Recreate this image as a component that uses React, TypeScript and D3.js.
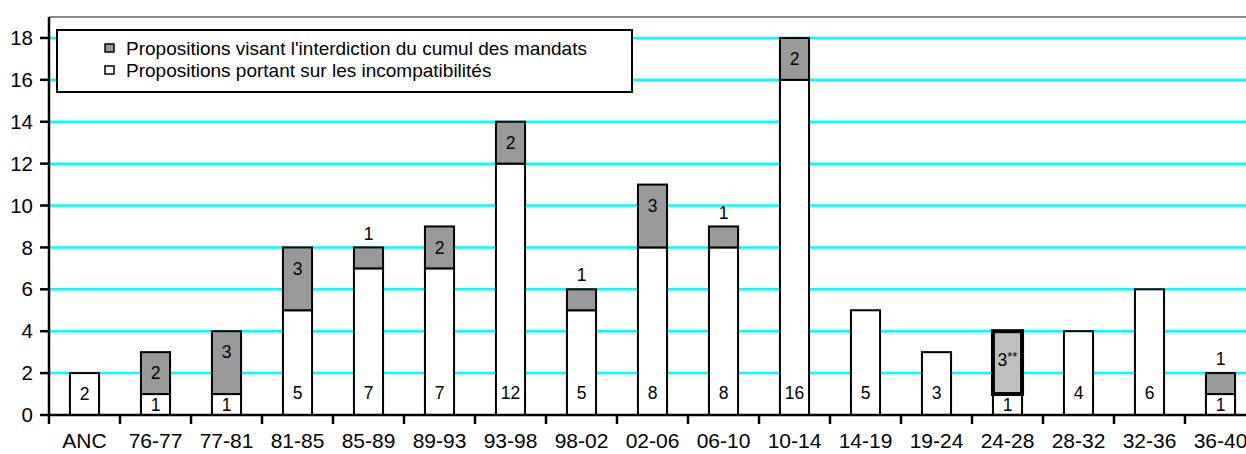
import * as d3 from "d3"

const categories = ["ANC", "76-77", "77-81", "81-85", "85-89", "89-93", "93-98", "98-02", "02-06", "06-10", "10-14", "14-19", "19-24", "24-28", "28-32", "32-36", "36-40"]
// Propositions portant sur les incompatibilités
const incompat = [2, 1, 1, 5, 7, 7, 12, 5, 8, 8, 16, 5, 3, 1, 4, 6, 1]
// Propositions visant l'interdiction du cumul des mandats
const cumul = [0, 2, 3, 3, 1, 2, 2, 1, 3, 1, 2, 0, 0, 3, 0, 0, 1]
// the 24-28 segment is drawn apart, label "3**"
const special = "24-28"
const yTicks = [0, 2, 4, 6, 8, 10, 12, 14, 16, 18]

const W = 1246
const H = 454
const font = "'Liberation Sans', Arial, sans-serif"

export default function App() {
  const x = d3.scaleBand<string>().domain(categories).range([49, 1256]).padding(0)
  const y = d3.scaleLinear().domain([0, 19]).range([415, 17])
  const bw = x.bandwidth() * 0.41
  const y0 = y(0)

  const rows = categories.map((c, i) => ({ c, w: incompat[i], g: cumul[i] }))

  return (
    <svg width={W} height={H} style={{ position: "absolute", left: 0, top: 0, background: "#fff" }} fontFamily={font}>
      {/* plot frame top */}
      <line x1={49} x2={W} y1={y(19)} y2={y(19)} stroke="#888" strokeWidth={2} />

      {/* grid */}
      {yTicks.filter((t) => t > 0).map((t) => (
        <line key={t} x1={49} x2={W} y1={y(t)} y2={y(t)} stroke="#00FFFF" strokeWidth={2.5} />
      ))}

      {/* bars */}
      {rows.map((d) => {
        const bx = (x(d.c) as number) + (x.bandwidth() - bw) / 2
        const cx = bx + bw / 2
        const total = d.w + d.g
        const isSpecial = d.c === special
        const wLabelY = Math.max(y(d.w / 2), y0 - 22)
        let gLabelY = Math.min(y((d.w + total) / 2), y(total) + 21)
        if (d.g === 1 && !isSpecial) gLabelY = y(total) - 14
        if (isSpecial) gLabelY = y((d.w + total) / 2) - 3
        return (
          <g key={d.c}>
            <rect x={bx} y={y(d.w)} width={bw} height={y0 - y(d.w)} fill="#fff" stroke="#000" strokeWidth={2} />
            {d.g > 0 && (
              <rect
                x={bx}
                y={y(total)}
                width={bw}
                height={y(d.w) - y(total)}
                fill={isSpecial ? "#C0C0C0" : "#999999"}
                stroke="#000"
                strokeWidth={isSpecial ? 4 : 2}
              />
            )}
            <text x={cx} y={wLabelY} dy="0.35em" textAnchor="middle" fontSize={17.5} fill="#000">
              {d.w}
            </text>
            {d.g > 0 &&
              (isSpecial ? (
                <text x={cx} y={gLabelY} dy="0.35em" textAnchor="middle" fontSize={17.5} fill="#000">
                  {d.g}
                  <tspan fontSize={13} dy="-0.4em">**</tspan>
                </text>
              ) : (
                <text x={cx} y={gLabelY} dy="0.35em" textAnchor="middle" fontSize={17.5} fill="#000">
                  {d.g}
                </text>
              ))}
          </g>
        )
      })}

      {/* y axis */}
      <line x1={49} x2={49} y1={y(19)} y2={y0} stroke="#000" strokeWidth={2.5} />
      {yTicks.map((t) => (
        <g key={t}>
          <line x1={40} x2={49} y1={y(t)} y2={y(t)} stroke="#000" strokeWidth={2.5} />
          <text x={33} y={y(t)} dy="0.35em" textAnchor="end" fontSize={20.5} fill="#000">
            {t}
          </text>
        </g>
      ))}

      {/* x axis */}
      <line x1={49} x2={W} y1={y0} y2={y0} stroke="#000" strokeWidth={2.5} />
      {categories.map((c) => (
        <g key={c}>
          <line x1={x(c) as number} x2={x(c) as number} y1={y0} y2={y0 + 9} stroke="#000" strokeWidth={2.5} />
          <text x={(x(c) as number) + x.bandwidth() / 2} y={441} dy="0.35em" textAnchor="middle" fontSize={21} fill="#000">
            {c}
          </text>
        </g>
      ))}

      {/* legend */}
      <rect x={57} y={30} width={575} height={62} fill="#fff" stroke="#000" strokeWidth={2} />
      <rect x={105} y={44} width={9} height={8} fill="#999999" stroke="#000" strokeWidth={1.5} />
      <text x={126} y={48.5} dy="0.35em" fontSize={19} fill="#000">
        Propositions visant l'interdiction du cumul des mandats
      </text>
      <rect x={105} y={66} width={9} height={8} fill="#fff" stroke="#000" strokeWidth={1.5} />
      <text x={126} y={70.5} dy="0.35em" fontSize={19} fill="#000">
        Propositions portant sur les incompatibilités
      </text>
    </svg>
  )
}
